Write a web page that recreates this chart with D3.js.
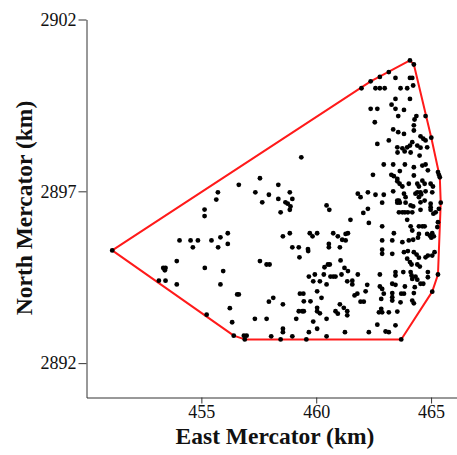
<!DOCTYPE html>
<html>
<head>
<meta charset="utf-8">
<script src="https://cdn.jsdelivr.net/npm/d3@7"></script>
<style>
  html, body { margin: 0; padding: 0; background: #fff; }
  svg { display: block; font-family: "Liberation Serif", "Times New Roman", serif; }
</style>
</head>
<body>
<svg id="chart" width="457" height="455"></svg>
<script>
// Sample locations, East / North Mercator coordinates in km (paired by index)
const eastKm = [
  464.08, 464.25, 462.37, 462.77, 463.16, 461.97, 463.45, 464.08, 464.18, 462.58,
  462.77, 462.98, 463.67, 463.96, 464.22, 463.45, 464.08, 463.28, 463.45, 463.82,
  462.37, 462.66, 463.57, 464.36, 464.28, 464.76, 462.55, 464.25, 464.25, 463.35,
  463.57, 463.82, 464.54, 464.66, 464.76, 465.01, 463.16, 462.66, 464.18, 464.08,
  463.53, 463.75, 463.96, 464.54, 464.40, 464.83, 463.54, 463.85, 464.11, 464.50,
  459.35, 456.63, 457.55, 458.35, 457.35, 457.94, 457.65, 458.35, 458.85, 458.96,
  458.66, 458.76, 458.88, 458.85, 458.45, 460.45, 460.57, 461.49, 458.55, 458.85,
  459.72, 459.84, 460.04, 460.74, 460.94, 461.13, 461.28, 461.38, 458.96, 459.24,
  459.64, 460.55, 460.55, 461.03, 461.28, 457.55, 457.84, 457.97, 459.27, 459.65,
  461.06, 460.36, 460.51, 460.59, 459.68, 459.94, 459.87, 460.16, 460.33, 460.45,
  460.62, 460.74, 460.84, 461.10, 461.23, 461.38, 461.35, 460.04, 459.29, 459.44,
  457.94, 458.13, 458.55, 459.46, 459.75, 460.23, 461.03, 461.20, 459.24, 459.39,
  459.46, 460.04, 460.04, 460.16, 460.84, 460.94, 461.35, 461.35, 457.33, 457.84,
  459.13, 459.87, 460.45, 460.04, 458.55, 458.55, 459.68, 461.25, 458.04, 458.45,
  458.96, 459.57, 460.45, 462.94, 463.35, 463.86, 464.25, 464.62, 464.76, 464.86,
  462.47, 463.27, 463.38, 463.53, 463.64, 463.53, 463.63, 463.75, 464.03, 464.40,
  464.47, 464.62, 464.72, 464.98, 465.08, 465.30, 465.34, 465.38, 464.25, 463.35,
  463.82, 463.89, 464.32, 464.40, 464.54, 464.76, 465.05, 464.47, 464.57, 462.25,
  462.58, 462.94, 461.93, 461.81, 462.87, 463.53, 463.60, 463.64, 463.53, 463.89,
  464.11, 464.22, 464.54, 464.72, 464.98, 464.98, 465.42, 462.25, 462.05, 463.60,
  463.75, 463.86, 463.99, 464.18, 464.54, 464.98, 465.10, 465.20, 465.34, 462.29,
  462.87, 463.96, 464.11, 464.18, 464.47, 464.62, 464.72, 465.30, 465.27, 463.38,
  463.31, 462.87, 463.75, 464.03, 464.22, 464.47, 464.43, 464.83, 464.95, 465.05,
  465.12, 465.01, 462.87, 462.87, 463.31, 463.82, 463.99, 464.25, 464.37, 464.47,
  464.76, 464.86, 465.05, 465.15, 463.96, 464.08, 464.15, 464.40, 464.51, 465.30,
  461.81, 462.77, 463.45, 463.45, 463.79, 464.11, 464.15, 464.18, 464.32, 464.40,
  464.54, 464.66, 464.86, 464.86, 461.57, 461.57, 462.22, 462.77, 462.87, 463.31,
  463.45, 463.86, 464.29, 465.05, 461.79, 461.67, 462.15, 462.94, 463.31, 463.31,
  463.31, 463.70, 463.82, 464.25, 461.93, 462.07, 462.83, 463.67, 464.18, 464.25,
  462.83, 462.73, 462.87, 463.16, 463.53, 462.66, 463.45, 462.29, 463.02, 463.16,
  463.70, 451.12, 454.05, 454.53, 454.85, 454.63, 455.44, 455.83, 456.15, 455.73,
  456.15, 453.93, 453.34, 453.44, 453.41, 455.15, 455.95, 453.15, 453.44, 453.93,
  455.83, 456.56, 456.63, 456.24, 455.23, 456.34, 456.41, 456.85, 456.89, 456.97,
  455.14, 455.14, 455.72, 455.65
];
const northKm = [
  2900.81, 2900.69, 2900.20, 2900.33, 2900.47, 2900.00, 2900.30, 2900.30, 2900.30, 2900.00,
  2900.00, 2900.00, 2900.00, 2900.00, 2900.08, 2899.69, 2899.69, 2899.52, 2899.40, 2899.37,
  2899.40, 2899.40, 2899.19, 2899.19, 2899.09, 2899.19, 2899.01, 2898.92, 2898.77, 2898.80,
  2898.72, 2898.67, 2898.60, 2898.53, 2898.48, 2898.56, 2898.48, 2898.38, 2898.43, 2898.33,
  2898.28, 2898.25, 2898.28, 2898.27, 2898.33, 2898.28, 2898.13, 2898.16, 2898.13, 2898.04,
  2897.99, 2897.19, 2897.38, 2897.19, 2896.97, 2896.90, 2896.68, 2896.78, 2896.97, 2896.78,
  2896.68, 2896.64, 2896.56, 2896.46, 2896.39, 2896.59, 2896.46, 2896.17, 2895.69, 2895.78,
  2895.78, 2895.69, 2895.78, 2895.78, 2895.69, 2895.59, 2895.76, 2895.78, 2895.37, 2895.37,
  2895.32, 2895.47, 2895.37, 2895.37, 2895.57, 2894.97, 2894.87, 2894.87, 2895.08, 2895.26,
  2894.99, 2894.79, 2894.87, 2894.87, 2894.52, 2894.58, 2894.38, 2894.38, 2894.58, 2894.29,
  2894.52, 2894.52, 2894.52, 2894.58, 2894.77, 2894.68, 2894.38, 2894.09, 2894.02, 2894.02,
  2893.79, 2893.90, 2893.71, 2893.80, 2893.80, 2893.90, 2893.71, 2893.61, 2893.51, 2893.51,
  2893.51, 2893.61, 2893.51, 2893.45, 2893.51, 2893.44, 2893.51, 2893.39, 2893.29, 2893.29,
  2893.29, 2893.21, 2893.29, 2893.00, 2893.00, 2892.90, 2892.90, 2892.90, 2892.78, 2892.69,
  2892.78, 2892.69, 2892.78, 2897.78, 2897.78, 2897.78, 2897.70, 2897.75, 2897.78, 2897.61,
  2897.48, 2897.48, 2897.44, 2897.36, 2897.59, 2897.29, 2897.22, 2897.14, 2897.22, 2897.22,
  2897.14, 2897.31, 2897.22, 2897.22, 2897.14, 2897.56, 2897.48, 2897.41, 2897.46, 2897.00,
  2896.93, 2896.83, 2896.93, 2896.97, 2896.97, 2897.00, 2896.97, 2896.83, 2896.91, 2896.97,
  2896.90, 2896.90, 2896.83, 2896.93, 2896.67, 2896.73, 2896.73, 2896.67, 2896.67, 2896.67,
  2896.59, 2896.56, 2896.68, 2896.73, 2896.64, 2896.54, 2896.67, 2896.49, 2896.37, 2896.39,
  2896.39, 2896.39, 2896.39, 2896.39, 2896.46, 2896.46, 2896.35, 2896.39, 2896.49, 2896.08,
  2895.98, 2896.17, 2895.98, 2895.86, 2895.98, 2895.98, 2895.98, 2896.10, 2895.96, 2895.78,
  2895.57, 2895.57, 2895.52, 2895.57, 2895.59, 2895.76, 2895.65, 2895.76, 2895.71, 2895.78,
  2895.69, 2895.65, 2895.30, 2895.18, 2895.18, 2895.23, 2895.26, 2895.23, 2895.16, 2895.07,
  2895.08, 2895.13, 2895.13, 2895.23, 2895.04, 2894.94, 2894.87, 2894.87, 2894.81, 2894.58,
  2894.58, 2894.58, 2894.65, 2894.55, 2894.65, 2894.65, 2894.55, 2894.45, 2894.52, 2894.43,
  2894.31, 2894.31, 2894.65, 2894.50, 2894.40, 2894.29, 2894.28, 2894.23, 2894.16, 2894.31,
  2894.28, 2894.23, 2894.21, 2894.08, 2894.02, 2893.97, 2894.09, 2894.02, 2894.04, 2893.92,
  2893.82, 2894.02, 2894.02, 2894.04, 2893.79, 2893.79, 2893.87, 2893.77, 2893.82, 2893.74,
  2893.58, 2893.48, 2893.48, 2893.48, 2893.50, 2893.12, 2893.10, 2892.90, 2892.92, 2892.90,
  2892.69, 2895.28, 2895.57, 2895.57, 2895.57, 2895.37, 2895.57, 2895.66, 2895.78, 2895.37,
  2895.47, 2894.97, 2894.77, 2894.77, 2894.70, 2894.77, 2894.68, 2894.40, 2894.40, 2894.29,
  2894.29, 2894.00, 2894.00, 2893.60, 2893.41, 2893.19, 2892.80, 2892.80, 2892.69, 2892.80,
  2896.47, 2896.28, 2896.97, 2896.76
];

const eastTicks = [455, 460, 465];
const northTicks = [2892, 2897, 2902];
const xTitle = "East Mercator (km)";
const yTitle = "North Mercator (km)";

const svg = d3.select("#chart");

const x = d3.scaleLinear().domain([450, 466.15]).range([86.5, 457.5]);
const y = d3.scaleLinear().domain([2891, 2902]).range([397.5, 19.5]);

// axes
const gx = svg.append("g")
  .attr("transform", `translate(0,${y(2891)})`)
  .call(d3.axisBottom(x).tickValues(eastTicks).tickFormat(d3.format("d"))
    .tickSize(6).tickPadding(2).tickSizeOuter(0));

const gy = svg.append("g")
  .attr("transform", `translate(${x(450)},0)`)
  .call(d3.axisLeft(y).tickValues(northTicks).tickFormat(d3.format("d"))
    .tickSize(8).tickPadding(2).tickSizeOuter(0));

[gx, gy].forEach(g => {
  g.select(".domain").attr("stroke", "#333").attr("stroke-width", 1);
  g.selectAll(".tick line").attr("stroke", "#333");
  g.selectAll(".tick text")
    .attr("fill", "#111")
    .style("font-family", "'Liberation Serif', 'Times New Roman', serif")
    .style("font-size", "18px");
});

// axis titles
svg.append("text")
  .attr("x", 275).attr("y", 444)
  .attr("text-anchor", "middle")
  .attr("font-weight", "bold")
  .attr("font-size", "23.5px")
  .attr("fill", "#111")
  .text(xTitle);

svg.append("text")
  .attr("transform", "translate(32,208) rotate(-90)")
  .attr("text-anchor", "middle")
  .attr("font-weight", "bold")
  .attr("font-size", "23.5px")
  .attr("fill", "#111")
  .text(yTitle);

// convex hull of all locations
const pts = eastKm.map((e, i) => [x(e), y(northKm[i])]);
const hull = d3.polygonHull(pts);
svg.append("path")
  .attr("d", "M" + hull.map(p => p.join(",")).join("L") + "Z")
  .attr("fill", "none")
  .attr("stroke", "#ff1a1a")
  .attr("stroke-width", 2)
  .attr("stroke-linejoin", "round");

// locations
svg.append("g")
  .selectAll("circle")
  .data(pts)
  .join("circle")
  .attr("cx", d => d[0])
  .attr("cy", d => d[1])
  .attr("r", 2.4)
  .attr("fill", "#000");
</script>
</body>
</html>
